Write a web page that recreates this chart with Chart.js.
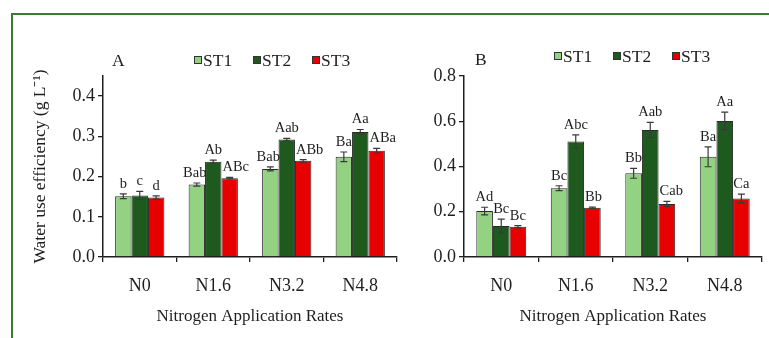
<!DOCTYPE html>
<html><head><meta charset="utf-8">
<script src="https://cdn.jsdelivr.net/npm/chart.js@4/dist/chart.umd.min.js"></script>
<style>
html,body{margin:0;padding:0;background:#fff;width:769px;height:338px;overflow:hidden}
#frame{position:absolute;left:11px;top:13px;width:820px;height:400px;border:2.5px solid #3d7b33;box-sizing:border-box}
#wA{position:absolute;left:0;top:0;width:400px;height:338px}
#wB{position:absolute;left:400px;top:0;width:369px;height:338px}
</style></head><body>
<div id="frame"></div>
<div id="wA"><canvas id="cA"></canvas></div>
<div id="wB"><canvas id="cB"></canvas></div>
<script>
// ---- data ----
const categories = ['N0', 'N1.6', 'N3.2', 'N4.8'];
const seriesNames = ['ST1', 'ST2', 'ST3'];

// Panel A
const A_ST1 = [0.151, 0.180, 0.219, 0.249];
const A_ST2 = [0.153, 0.237, 0.292, 0.311];
const A_ST3 = [0.148, 0.196, 0.239, 0.264];
const A_ST1_err = [0.006, 0.004, 0.005, 0.012];
const A_ST2_err = [0.010, 0.004, 0.003, 0.006];
const A_ST3_err = [0.004, 0.002, 0.003, 0.006];
const A_ST1_lbl = ['b', 'Bab', 'Bab', 'Ba'];
const A_ST2_lbl = ['c', 'Ab', 'Aab', 'Aa'];
const A_ST3_lbl = ['d', 'ABc', 'ABb', 'ABa'];
const A_yTicks = [0, 0.1, 0.2, 0.3, 0.4];

// Panel B
const B_ST1 = [0.203, 0.304, 0.370, 0.443];
const B_ST2 = [0.137, 0.510, 0.561, 0.601];
const B_ST3 = [0.134, 0.218, 0.234, 0.259];
const B_ST1_err = [0.017, 0.011, 0.022, 0.044];
const B_ST2_err = [0.030, 0.030, 0.034, 0.039];
const B_ST3_err = [0.005, 0.003, 0.012, 0.019];
const B_ST1_lbl = ['Ad', 'Bc', 'Bb', 'Ba'];
const B_ST2_lbl = ['Bc', 'Abc', 'Aab', 'Aa'];
const B_ST3_lbl = ['Bc', 'Bb', 'Cab', 'Ca'];
const B_yTicks = [0, 0.2, 0.4, 0.6, 0.8];

const xTitle = 'Nitrogen Application Rates';
const yTitle = 'Water use efficiency (g L\u207B\u00B9)';

// ---- styles ----
const COLORS = ['#93d282', '#1e5a1e', '#e60000'];
const SERIF = '"Liberation Serif", "Times New Roman", serif';
const INK = '#1e1e1e';

const annot = {
  id: 'annot',
  afterDatasetsDraw(chart, args, o) {
    const ctx = chart.ctx, y = chart.scales.y;
    chart.data.datasets.forEach((ds, di) => {
      const meta = chart.getDatasetMeta(di);
      meta.data.forEach((bar, i) => {
        const v = ds.data[i], e = ds.err[i];
        const yt = y.getPixelForValue(v + e), yb = y.getPixelForValue(v - e);
        ctx.save();
        ctx.strokeStyle = '#3a3a3a'; ctx.lineWidth = 1.2;
        ctx.beginPath();
        ctx.moveTo(bar.x, yt); ctx.lineTo(bar.x, yb);
        ctx.moveTo(bar.x - 3.5, yt); ctx.lineTo(bar.x + 3.5, yt);
        ctx.moveTo(bar.x - 3.5, yb); ctx.lineTo(bar.x + 3.5, yb);
        ctx.stroke();
        ctx.font = '14.5px ' + SERIF; ctx.fillStyle = INK;
        ctx.textAlign = 'center'; ctx.textBaseline = 'alphabetic';
        const t = ds.letters[i], w = ctx.measureText(t).width, bw = bar.width;
        let dx = 0;
        if (w > bw) { if (di === 0) dx = -(w - bw) / 2 * 0.6; if (di === 2) dx = (w - bw) / 2 + 1; }
        ctx.fillText(t, bar.x + dx, yt - 6);
        ctx.restore();
      });
    });
    // panel letter + legend
    ctx.save();
    ctx.font = '17.5px ' + SERIF; ctx.fillStyle = INK; ctx.textBaseline = 'middle'; ctx.textAlign = 'left';
    ctx.fillText(o.panel, o.px, o.py);
    chart.data.datasets.forEach((ds, di) => {
      const x = o.lx + di * o.lstep, yy = o.ly;
      ctx.fillStyle = ds.backgroundColor; ctx.strokeStyle = '#333'; ctx.lineWidth = 1;
      ctx.fillRect(x, yy - 4, 8, 8); ctx.strokeRect(x + 0.5, yy - 3.5, 7, 7);
      ctx.fillStyle = INK;
      ctx.fillText(ds.label, x + 9, yy + 1);
    });
    ctx.restore();
  }
};

function makeDatasets(vals, errs, lbls) {
  return seriesNames.map((n, k) => ({
    label: n, data: vals[k], err: errs[k], letters: lbls[k],
    backgroundColor: COLORS[k], borderColor: '#2a2a2a', borderWidth: 1,
    categoryPercentage: 0.67, barPercentage: 1.0
  }));
}

function makeChart(id, ds, yMax, yStep, yTickList, opts) {
  return new Chart(document.getElementById(id), {
    type: 'bar',
    data: { labels: categories, datasets: ds },
    options: {
      responsive: true, maintainAspectRatio: false, animation: false,
      devicePixelRatio: 1,
      layout: { padding: opts.padding },
      plugins: { legend: { display: false }, tooltip: { enabled: false }, annot: opts.annot },
      scales: {
        x: {
          ticks: { font: { family: SERIF, size: 18 }, color: INK, padding: 13 },
          grid: { drawOnChartArea: false, tickLength: 5, color: INK, lineWidth: 1.3, offset: true },
          border: { color: INK, width: 1.5 },
          title: { display: true, text: xTitle, color: INK, font: { family: SERIF, size: 17 }, padding: { top: 0, bottom: 11 } },
          afterFit: s => { s.height = 81; }
        },
        y: {
          min: 0, max: yMax,
          ticks: { stepSize: yStep, font: { family: SERIF, size: 18 }, color: INK, padding: 3, callback: v => Number(v).toFixed(1) },
          afterBuildTicks: s => { s.ticks = yTickList.map(v => ({ value: v })); },
          grid: { drawOnChartArea: false, tickLength: 5, color: INK, lineWidth: 1.3 },
          border: { color: INK, width: 1.5 },
          title: { display: opts.yTitle, text: yTitle, color: INK, font: { family: SERIF, size: 17.5 }, padding: { top: 16, bottom: 0 } },
          afterFit: s => { s.width = opts.yWidth; }
        }
      }
    },
    plugins: [annot]
  });
}

makeChart('cA',
  makeDatasets([A_ST1, A_ST2, A_ST3], [A_ST1_err, A_ST2_err, A_ST3_err], [A_ST1_lbl, A_ST2_lbl, A_ST3_lbl]),
  0.45, 0.1, A_yTicks,
  { padding: { left: 14, top: 76, right: 3, bottom: 0 }, yWidth: 89, yTitle: true,
    annot: { panel: 'A', px: 112, py: 61, lx: 194, ly: 60, lstep: 59 } });

makeChart('cB',
  makeDatasets([B_ST1, B_ST2, B_ST3], [B_ST1_err, B_ST2_err, B_ST3_err], [B_ST1_lbl, B_ST2_lbl, B_ST3_lbl]),
  0.8, 0.2, B_yTicks,
  { padding: { left: 0, top: 76, right: 7, bottom: 0 }, yWidth: 64, yTitle: false,
    annot: { panel: 'B', px: 75, py: 60, lx: 154, ly: 56, lstep: 59 } });
</script>
</body></html>
